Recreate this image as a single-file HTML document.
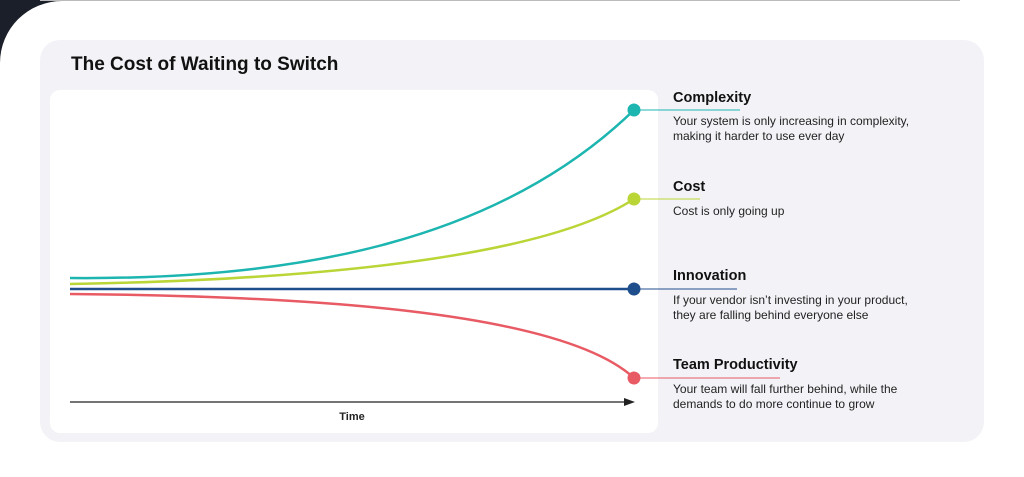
<!DOCTYPE html>
<html style="width:1024px;height:477px;overflow:hidden;margin:0"><head><meta charset="utf-8"><style>
body{margin:0;width:1024px;height:477px;background:#fff;position:relative;overflow:hidden;font-family:"Liberation Sans","DejaVu Sans",sans-serif}
.t{position:absolute;color:#111}
.h{font-weight:bold;font-size:14.5px}
.d{font-size:12px;line-height:15px;color:#222}
</style></head><body>
<div style="position:absolute;left:0;top:0;width:80px;height:80px;background:#1b1f29"></div>
<div style="position:absolute;left:0;top:1px;width:1024px;height:476px;background:#fff;border-top-left-radius:62px"></div>
<div style="position:absolute;left:40px;top:0;width:920px;height:1px;background:#bbb"></div>
<div style="position:absolute;left:40px;top:40px;width:944px;height:402px;background:#f3f3f7;border-radius:20px"></div>
<div style="position:absolute;left:50px;top:90px;width:608px;height:343px;background:#fff;border-radius:10px"></div>
<div class="t" style="left:71px;top:54px;font-size:19px;font-weight:bold">The Cost of Waiting to Switch</div>
<svg style="position:absolute;left:0;top:0" width="1024" height="477">
<path d="M70 278 C300 280 500 240 634 110" fill="none" stroke="#1cb5b0" stroke-width="2.5"/>
<path d="M70 284 C300 280 540 260 634 199" fill="none" stroke="#b9d536" stroke-width="2.5"/>
<path d="M70 289 H634" stroke="#1f4e8c" stroke-width="2.5"/>
<path d="M70 294 C300 296 560 310 634 378" fill="none" stroke="#e85a64" stroke-width="2.5"/>
<path d="M634 110 H740" stroke="#1cb5b0" stroke-width="1"/>
<path d="M634 199 H700" stroke="#b9d536" stroke-width="1"/>
<path d="M634 289 H737" stroke="#1f4e8c" stroke-width="1"/>
<path d="M634 378 H780" stroke="#e85a64" stroke-width="1"/>
<circle cx="634" cy="110" r="6.5" fill="#1cb5b0"/>
<circle cx="634" cy="199" r="6.5" fill="#b9d536"/>
<circle cx="634" cy="289" r="6.5" fill="#1f4e8c"/>
<circle cx="634" cy="378" r="6.5" fill="#e85a64"/>
<path d="M70 402 H626" stroke="#222" stroke-width="1.2"/>
<path d="M624 398 L635 402 L624 406Z" fill="#222"/>
<text x="352" y="420" font-size="11" font-weight="bold" text-anchor="middle" font-family="Liberation Sans,sans-serif" fill="#222">Time</text>
</svg>
<div class="t h" style="left:673px;top:90px">Complexity</div>
<div class="t d" style="left:673px;top:114px">Your system is only increasing in complexity,<br>making it harder to use ever day</div>
<div class="t h" style="left:673px;top:179px">Cost</div>
<div class="t d" style="left:673px;top:204px">Cost is only going up</div>
<div class="t h" style="left:673px;top:268px">Innovation</div>
<div class="t d" style="left:673px;top:293px">If your vendor isn’t investing in your product,<br>they are falling behind everyone else</div>
<div class="t h" style="left:673px;top:357px">Team Productivity</div>
<div class="t d" style="left:673px;top:382px">Your team will fall further behind, while the<br>demands to do more continue to grow</div>
</body></html>
